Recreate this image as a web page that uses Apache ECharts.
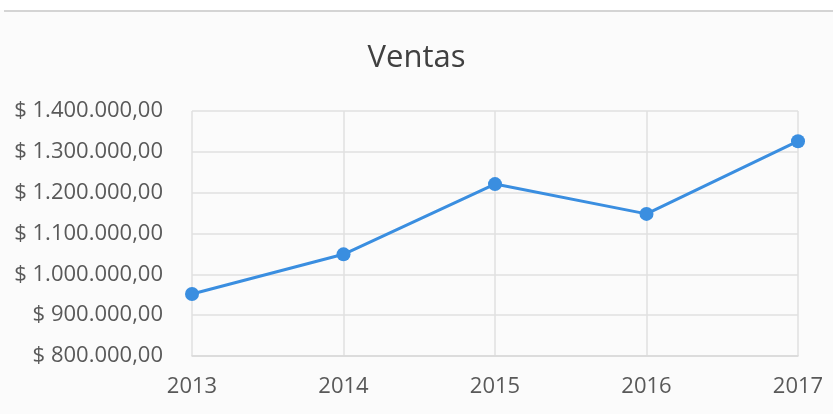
<!DOCTYPE html>
<html><head><meta charset="utf-8">
<script src="https://cdn.jsdelivr.net/npm/echarts@6/dist/echarts.min.js"></script>
<style>html,body{margin:0;padding:0;background:#fff}#c{width:833px;height:414px}</style>
</head><body><div id="c"></div>
<script>
const categories = ['2013','2014','2015','2016','2017'];
const ventas = [952000, 1049000, 1221000, 1148000, 1326000];
const yTickMin = 800000, yTickMax = 1400000, yTickStep = 100000;
const chart = echarts.init(document.getElementById('c'));
function fmt(v){
  const s = Math.round(v).toString().replace(/\B(?=(\d{3})+(?!\d))/g,'.');
  return '$ ' + s + ',00';
}
chart.setOption({
  backgroundColor: '#fbfbfb',
  animation: false,
  graphic: [
    {type:'rect', shape:{x:0,y:0,width:833,height:10}, style:{fill:'#ffffff'}, z:-1},
    {type:'rect', shape:{x:4,y:10,width:829,height:2}, style:{fill:'#d4d4d4'}, z:-1}
  ],
  title: {
    text: 'Ventas', left: 'center', top: 38,
    textStyle: {fontFamily:'Open Sans', fontSize: 31, fontWeight: 'normal', color:'#404040'}
  },
  grid: {left: 192, right: 35, top: 111, bottom: 58},
  xAxis: {
    type: 'category', data: categories, boundaryGap: false,
    axisLine: {show: true, lineStyle:{color:'#d9d9d9', width:1.5}},
    axisTick: {show:false},
    splitLine: {show:true, lineStyle:{color:'#e0e0e0', width:1.5}},
    axisLabel: {margin: 20, fontFamily:'Open Sans', fontSize: 22, color:'#595959'}
  },
  yAxis: {
    type: 'value', min: yTickMin, max: yTickMax, interval: yTickStep,
    axisLine: {show:false}, axisTick:{show:false},
    splitLine: {show:true, lineStyle:{color:'#e0e0e0', width:1.5}},
    axisLabel: {margin: 29, fontFamily:'Open Sans', fontSize: 22, color:'#595959', formatter: fmt}
  },
  series: [{
    type: 'line', data: ventas, symbol: 'circle', symbolSize: 14,
    lineStyle: {color:'#3a8ee0', width: 3},
    itemStyle: {color:'#3a8ee0'}
  }]
});
</script></body></html>
